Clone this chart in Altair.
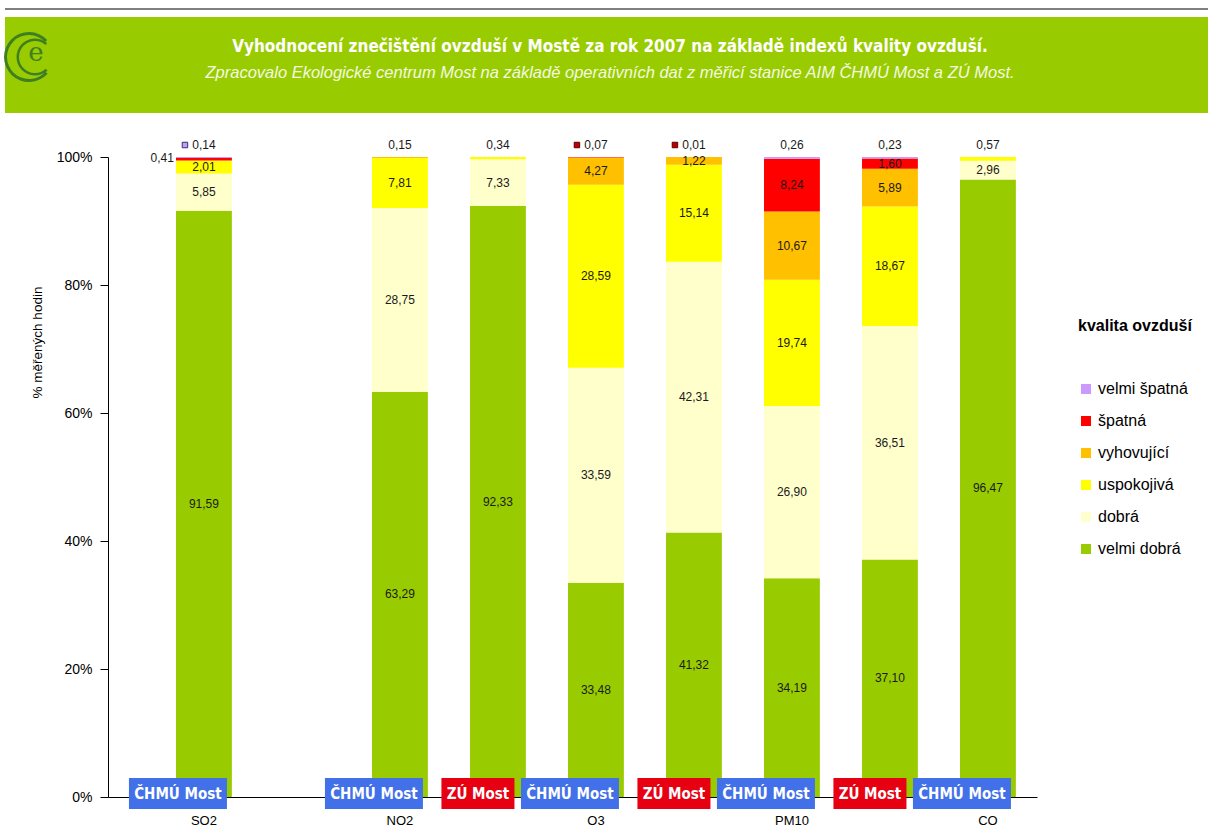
import altair as alt
import pandas as pd

# ---------------- data ----------------
categories = ["velmi dobrá", "dobrá", "uspokojivá", "vyhovující", "špatná", "velmi špatná"]
cat_colors = ["#99CC00", "#FFFFCC", "#FFFF00", "#FFC000", "#FF0000", "#CC99FF"]

pollutants = ["SO2", "SO2", "NO2", "NO2", "O3", "O3", "PM10", "PM10", "CO"]
stations = ["ČHMÚ Most", "ZÚ Most", "ČHMÚ Most", "ZÚ Most", "ČHMÚ Most", "ZÚ Most",
            "ČHMÚ Most", "ZÚ Most", "ČHMÚ Most"]
has_data = [True, False, True, True, True, True, True, True, True]

velmi_dobra = [91.59, None, 63.29, 92.33, 33.48, 41.32, 34.19, 37.10, 96.47]
dobra = [5.85, None, 28.75, 7.33, 33.59, 42.31, 26.90, 36.51, 2.96]
uspokojiva = [2.01, None, 7.81, 0.34, 28.59, 15.14, 19.74, 18.67, 0.57]
vyhovujici = [0.0, None, 0.15, 0.0, 4.27, 1.22, 10.67, 5.89, 0.0]
spatna = [0.41, None, 0.0, 0.0, 0.07, 0.01, 8.24, 1.60, 0.0]
velmi_spatna = [0.14, None, 0.0, 0.0, 0.0, 0.0, 0.26, 0.23, 0.0]

series = [velmi_dobra, dobra, uspokojiva, vyhovujici, spatna, velmi_spatna]

# labels drawn with a small colour key next to them (Excel style)
keyed_labels = ["SO2|ČHMÚ Most|velmi špatná", "O3|ČHMÚ Most|špatná", "O3|ZÚ Most|špatná"]
# label drawn at the left of its bar
left_labels = ["SO2|ČHMÚ Most|špatná"]

title_text = "Vyhodnocení znečištění ovzduší v Mostě za rok 2007 na základě indexů kvality ovzduší."
subtitle_text = ("Zpracovalo Ekologické centrum Most na základě operativních dat z měřicí stanice "
                 "AIM ČHMÚ Most a ZÚ Most.")

slots = [f"{p}|{s}" for p, s in zip(pollutants, stations)]

rows = []
for i, slot in enumerate(slots):
    for r, (cat, vals) in enumerate(zip(categories, series)):
        v = vals[i]
        if v is None or v == 0:
            continue
        rows.append({"slot": slot, "pollutant": pollutants[i], "station": stations[i],
                     "category": cat, "rank": r, "value": v, "key": f"{slot}|{cat}"})
df = pd.DataFrame(rows)

df_slots = pd.DataFrame({"slot": [s for s, h in zip(slots, has_data) if h],
                         "station": [s for s, h in zip(stations, has_data) if h]})
one = pd.DataFrame({"a": [0]})

# ---------------- encodings ----------------
FONT = "Liberation Sans"
NARROW = "Liberation Sans Narrow, DejaVu Sans Condensed, Liberation Sans"

xscale = alt.Scale(domain=slots, paddingInner=0.43, paddingOuter=0.4548, align=0.763)
xaxis = alt.Axis(labelExpr="split(datum.value, '|')[1] == 'ČHMÚ Most' ? split(datum.value, '|')[0] : ''",
                 ticks=False, domainColor="#000000", domainWidth=1,
                 labelFont=FONT, labelFontSize=13, labelColor="#000000",
                 labelAngle=0, labelBaseline="top", labelPadding=17)
yscale = alt.Scale(domain=[0, 100], nice=False, zero=True)
yaxis = alt.Axis(values=[0, 20, 40, 60, 80, 100], labelExpr="datum.value + '%'",
                 grid=False, domainColor="#000000", tickColor="#000000",
                 tickSize=8, labelPadding=8, labelFont=FONT, labelFontSize=14,
                 labelColor="#000000", titleFont=FONT, titleFontSize=13.5,
                 titleFontWeight="normal", titleColor="#000000",
                 titleX=-71, titleY=185, titleAngle=270, titleAlign="center",
                 titleBaseline="middle")
YTITLE = "% měřených hodin"


def X():
    return alt.X("slot:N", scale=xscale, title=None, sort=slots, axis=xaxis)


def Yf(field, stack=None):
    if stack:
        return alt.Y(field, stack=stack, scale=yscale, title=YTITLE, axis=yaxis)
    return alt.Y(field, scale=yscale, title=YTITLE, axis=yaxis)


color = alt.Color("category:N",
                  scale=alt.Scale(domain=categories[::-1], range=cat_colors[::-1]),
                  legend=alt.Legend(title="kvalita ovzduší", orient="none",
                                    legendX=970, legendY=161, padding=0,
                                    titleFont=FONT, titleFontSize=16, titleFontWeight="bold",
                                    titleColor="#000000", titlePadding=47,
                                    labelFont=FONT, labelFontSize=16, labelColor="#000000",
                                    labelOffset=4, symbolType="square", symbolSize=100,
                                    symbolStrokeWidth=0, rowPadding=16))

bars = alt.Chart(df).mark_bar().encode(
    x=X(), y=Yf("value:Q", stack="zero"), color=color,
    order=alt.Order("rank:Q", sort="ascending"))

lab = alt.Chart(df).transform_stack(
    stack="value", groupby=["slot"], as_=["y0", "y1"],
    sort=[alt.SortField("rank", order="ascending")]
).transform_calculate(
    mid="(datum.y0 + datum.y1) / 2",
    label="replace(format(datum.value, '.2f'), '.', ',')"
)

inside = lab.transform_filter("datum.value >= 1").mark_text(
    font=FONT, fontSize=12, color="#1a1a1a", baseline="middle").encode(
    x=X(), y=Yf("mid:Q"), text="label:N")

left_list = "[" + ",".join(f"'{k}'" for k in left_labels) + "]"
keyed_list = "[" + ",".join(f"'{k}'" for k in keyed_labels) + "]"

above = lab.transform_filter(
    f"datum.value < 1 && indexof({left_list}, datum.key) < 0").mark_text(
    font=FONT, fontSize=12, color="#1a1a1a", baseline="middle", dy=-12).encode(
    x=X(), y=Yf("y1:Q"), text="label:N")

left = lab.transform_filter(f"indexof({left_list}, datum.key) >= 0").mark_text(
    font=FONT, fontSize=12, color="#1a1a1a", baseline="middle", align="right", dx=-30).encode(
    x=X(), y=Yf("y1:Q"), text="label:N")

key_red = lab.transform_filter(
    f"indexof({keyed_list}, datum.key) >= 0 && datum.category == 'špatná'").mark_square(
    size=30, filled=True, color="#C00000", stroke="#5a0000", strokeWidth=1,
    xOffset=-19, yOffset=-12, opacity=1).encode(x=X(), y=Yf("y1:Q"))
key_purple = lab.transform_filter(
    f"indexof({keyed_list}, datum.key) >= 0 && datum.category == 'velmi špatná'").mark_square(
    size=30, filled=True, color="#CC99FF", stroke="#333366", strokeWidth=1,
    xOffset=-19, yOffset=-12, opacity=1).encode(x=X(), y=Yf("y1:Q"))

# station tags
tag_ch = alt.Chart(df_slots).transform_filter("datum.station == 'ČHMÚ Most'").mark_bar(
    width=98, xOffset=-26, color="#4170E8").encode(x=X(), y=alt.value(621), y2=alt.value(652))
tag_zu = alt.Chart(df_slots).transform_filter("datum.station == 'ZÚ Most'").mark_bar(
    width=73, xOffset=-20, color="#E60012").encode(x=X(), y=alt.value(621), y2=alt.value(652))
tag_ch_t = alt.Chart(df_slots).transform_filter("datum.station == 'ČHMÚ Most'").mark_text(
    font=NARROW, fontSize=15, fontWeight="bold", color="#FFFFFF", dx=-26, baseline="middle").encode(
    x=X(), y=alt.value(637), text="station:N")
tag_zu_t = alt.Chart(df_slots).transform_filter("datum.station == 'ZÚ Most'").mark_text(
    font=NARROW, fontSize=15, fontWeight="bold", color="#FFFFFF", dx=-20, baseline="middle").encode(
    x=X(), y=alt.value(637), text="station:N")

# header decoration
top_line = alt.Chart(one).mark_rect(color="#808080").encode(
    x=alt.value(-103), x2=alt.value(1100), y=alt.value(-149), y2=alt.value(-147))
header = alt.Chart(one).mark_rect(color="#99CC00").encode(
    x=alt.value(-103), x2=alt.value(1100), y=alt.value(-140), y2=alt.value(-44))
title_m = alt.Chart(one).mark_text(
    text=title_text, font=NARROW, fontSize=17, fontWeight="bold", color="#FFFFFF",
    baseline="middle").encode(x=alt.value(502), y=alt.value(-110))
subtitle_m = alt.Chart(one).mark_text(
    text=subtitle_text, font=FONT, fontSize=16.5, fontStyle="italic", color="#F4F9E0",
    baseline="middle").encode(x=alt.value(502), y=alt.value(-84))
logo_c1 = alt.Chart(one).mark_arc(
    radius=22, radius2=25, theta=2.3, theta2=7.1, color="#3F7F22").encode(
    x=alt.value(-79), y=alt.value(-100))
logo_c2 = alt.Chart(one).mark_arc(
    radius=16, radius2=18.5, theta=2.4, theta2=7.0, color="#3F7F22").encode(
    x=alt.value(-73), y=alt.value(-100))
logo_e = alt.Chart(one).mark_text(
    text="e", font="DejaVu Serif", fontSize=26, color="#3F7F22", baseline="middle").encode(
    x=alt.value(-72), y=alt.value(-104))

chart = alt.layer(
    bars, inside, above, left, key_red, key_purple,
    tag_ch, tag_zu, tag_ch_t, tag_zu_t,
    top_line, header, logo_c1, logo_c2, logo_e, title_m, subtitle_m,
).properties(
    width=929, height=640,
    background="#FFFFFF",
    autosize=alt.AutoSizeParams(type="none"),
    padding={"left": 108, "top": 157, "right": 171, "bottom": 30},
).configure_view(strokeWidth=0, stroke="transparent")

chart.save("out.html", embed_options={"renderer": "svg", "actions": False})
